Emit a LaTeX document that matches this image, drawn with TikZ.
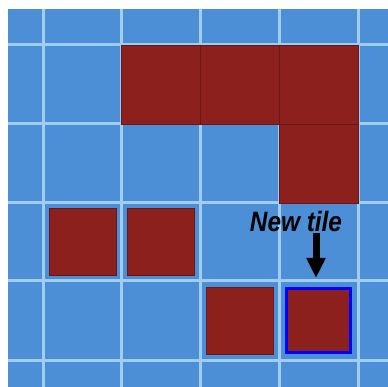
\documentclass[tikz,border=0pt]{standalone}
\usepackage{fontspec}
\setmainfont{Liberation Sans}
\usetikzlibrary{arrows.meta}
\definecolor{water}{RGB}{76,143,214}
\definecolor{gridline}{RGB}{160,205,240}
\definecolor{tilered}{RGB}{140,32,28}
\tikzset{
  fulltile/.style={draw=tilered!75!black,fill=tilered,minimum size=79pt,inner sep=0pt,line width=0.8pt},
  smalltile/.style={draw=tilered!75!black,fill=tilered,minimum size=67pt,inner sep=0pt,line width=0.8pt},
  newtile/.style={smalltile,draw=blue,line width=3pt,minimum size=64pt},
}
\begin{document}
\begin{tikzpicture}[x=1pt,y=-1pt,>={Triangle[width=18pt,length=20pt]}]
\useasboundingbox (0,0) rectangle (388,387);
\fill[water] (8,9) rectangle (388,387);
% grid of the board
\foreach \x in {43,121,200,279,358}
  \draw[gridline,line width=3pt] (\x,9)--(\x,387);
\foreach \y in {45,124,203,281,360}
  \draw[gridline,line width=3pt] (8,\y)--(388,\y);

% tiles already on the board
\node[fulltile] (a1) at (160.5,84.5) {};
\node[fulltile] (a2) at (239.5,84.5) {};
\node[fulltile] (a3) at (318.5,84.5) {};
\node[fulltile] (b3) at (318.5,163.5) {};
\node[smalltile] (c1) at (82.5,242) {};
\node[smalltile] (c2) at (161,242) {};
\node[smalltile] (d1) at (239.5,320.5) {};
\node[newtile] (d2) at (318.5,320.5) {};

\node[font=\fontsize{28}{28}\selectfont\bfseries\itshape,xscale=0.87,inner sep=0pt] (label) at (296,221) {New tile};
\coordinate (tail) at (316,233);
\draw[->,line width=7pt] (tail)--(tail|-d2.north) [shorten >=9pt];
\end{tikzpicture}
\end{document}
